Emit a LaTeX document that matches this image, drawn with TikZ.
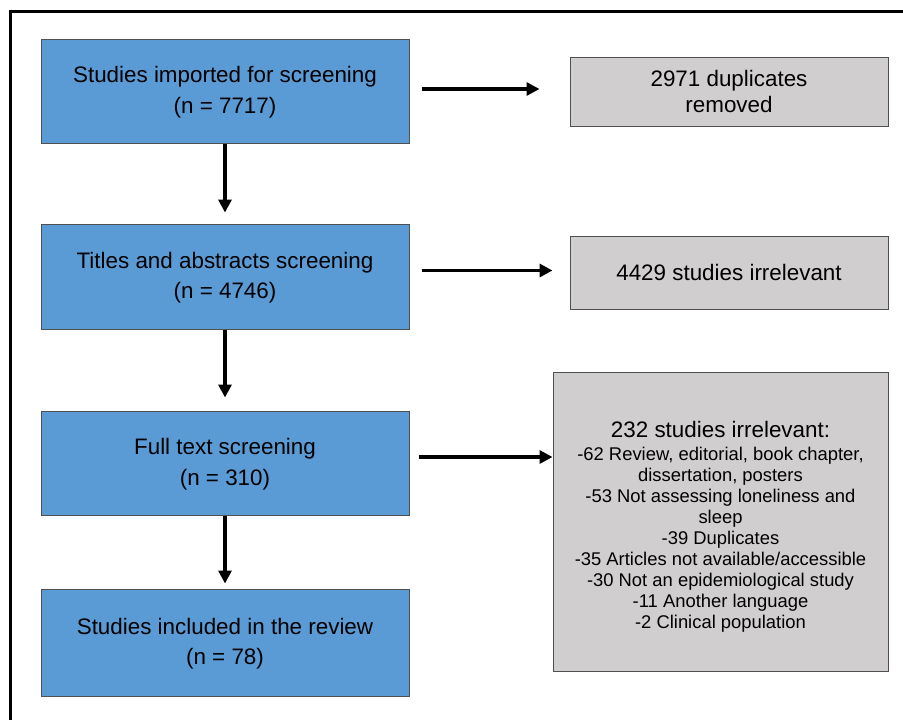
\documentclass[tikz,border=0pt]{standalone}
\usepackage{fontspec}
\setmainfont{Liberation Sans}
\usetikzlibrary{arrows.meta,calc}
\definecolor{boxblue}{HTML}{5B9BD5}
\definecolor{boxgray}{HTML}{D0CECE}
\definecolor{edgegray}{HTML}{505050}
\begin{document}
\begin{tikzpicture}[x=1pt,y=-1pt,
  bluebox/.style={draw=edgegray, line width=1pt, fill=boxblue, minimum width=368pt, align=center, inner sep=0pt,
     font=\fontsize{22.4}{30.5}\selectfont},
  graybox/.style={draw=edgegray, line width=1pt, fill=boxgray, align=center, inner sep=0pt},
  arr/.style={line width=3.4pt, -{Triangle[length=13pt,width=13pt]}}
]
\useasboundingbox (0,0) rectangle (903,720);
\draw[line width=3pt] (10,720) -- (10,11) -- (905,11);

\node[bluebox, minimum height=104pt] (b1) at (225,91) {\rule{0pt}{19pt}Studies imported for screening\\(n = 7717)};
\node[bluebox, minimum height=105pt] (b2) at (225,276.5) {\rule{0pt}{19pt}Titles and abstracts screening\\(n = 4746)};
\node[bluebox, minimum height=104pt] (b3) at (225,463) {\rule{0pt}{19pt}Full text screening\\(n = 310)};
\node[bluebox, minimum height=107pt] (b4) at (225,642.5) {\rule{0pt}{19pt}Studies included in the review\\(n = 78)};

\node[graybox, minimum width=318pt, minimum height=69pt, font=\fontsize{22.4}{26}\selectfont] (g1) at (729,91.5) {2971 duplicates\\removed};
\node[graybox, minimum width=318pt, minimum height=73pt, font=\fontsize{22.4}{27}\selectfont] (g2) at (729,272.5) {4429 studies irrelevant};
\node[graybox, minimum width=335pt, minimum height=299pt, font=\fontsize{18.4}{21}\selectfont] (g3) at (720.5,522)
  {{\fontsize{22.4}{24}\selectfont\rule{0pt}{26pt}232 studies irrelevant:}\\[2pt]
   -62 Review, editorial, book chapter,\\
   dissertation, posters\\
   -53 Not assessing loneliness and\\
   sleep\\
   -39 Duplicates\\
   -35 Articles not available/accessible\\
   -30 Not an epidemiological study\\
   -11 Another language\\
   -2 Clinical population};

\draw[arr, shorten <=12pt, shorten >=30pt] ($(b1.east)+(0,-2)$) -- ($(b1.east -| g1.west)+(0,-2)$);
\draw[arr, shorten <=12pt, shorten >=17pt] ($(b2.east)+(0,-6)$) -- ($(b2.east -| g2.west)+(0,-6)$);
\draw[arr, shorten <=9pt] ($(b3.east)+(0,-6)$) -- ($(b3.east -| g3.west)+(0,-6)$);

\draw[arr, shorten >=11pt] (b1.south) -- (b2.north);
\draw[arr, shorten >=13pt] (b2.south) -- (b3.north);
\draw[arr, shorten >=5pt] (b3.south) -- (b4.north);
\end{tikzpicture}
\end{document}
